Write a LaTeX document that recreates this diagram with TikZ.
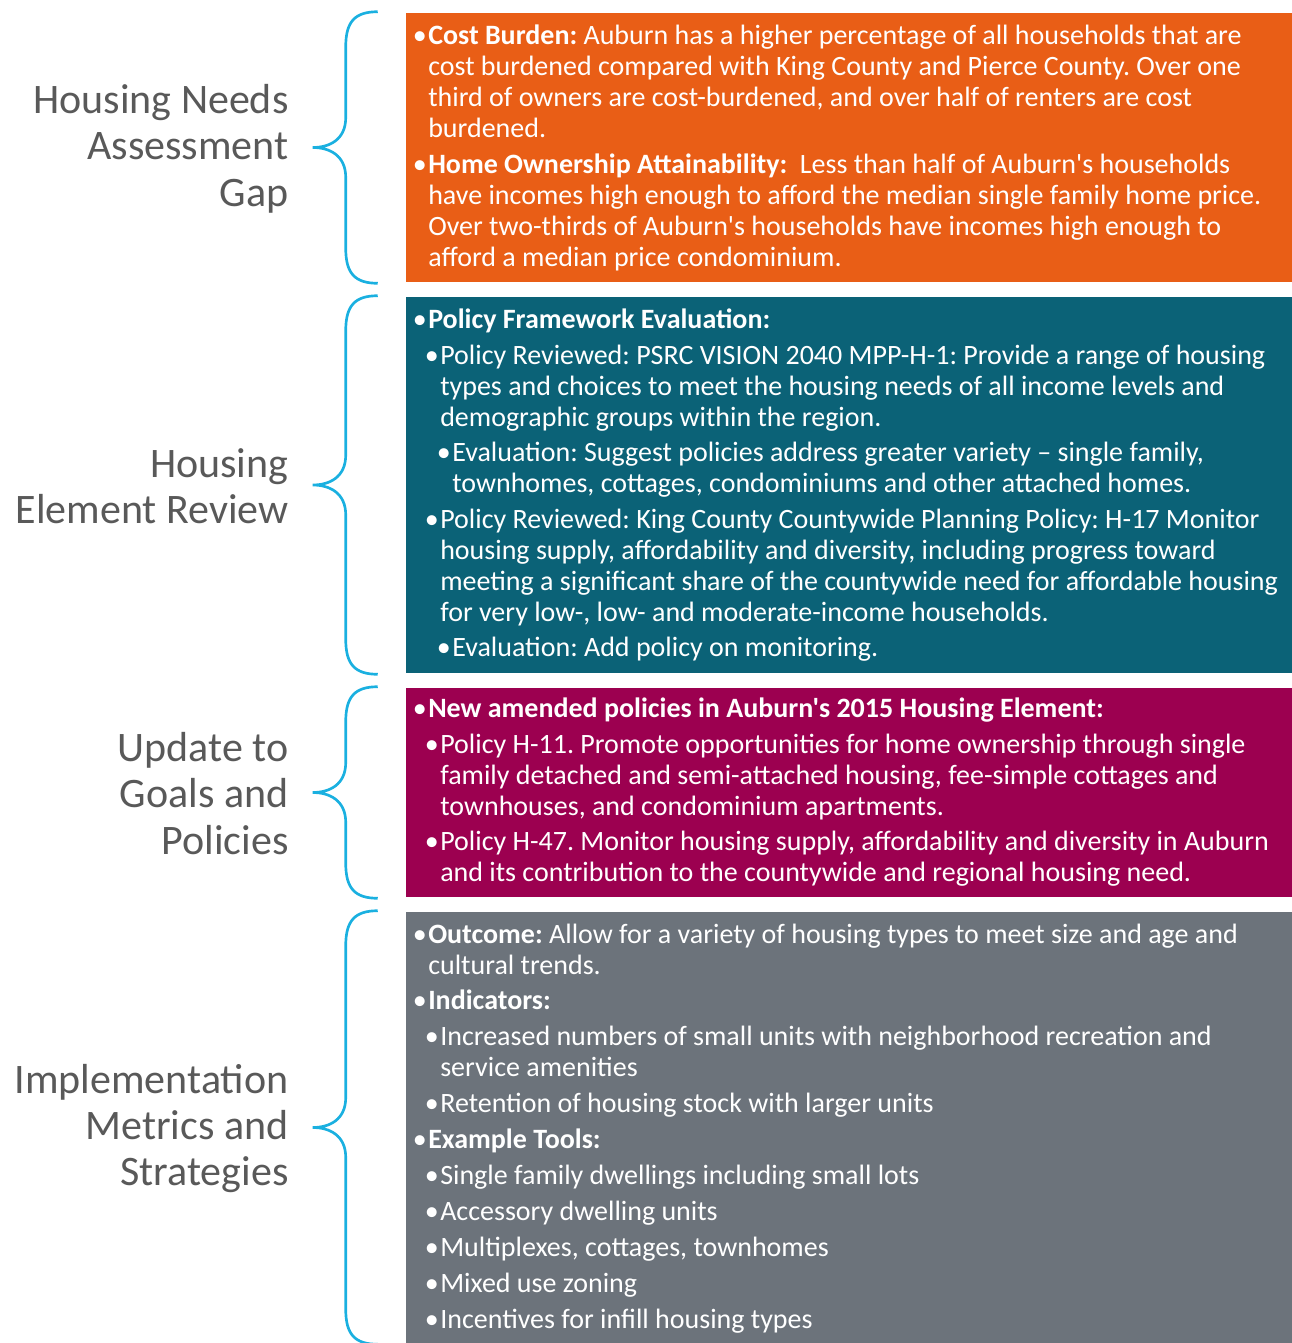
\documentclass[tikz,border=0pt]{standalone}
\usepackage{fontspec}
\setmainfont{Carlito}[Ligatures=TeXOff]
\usetikzlibrary{fit}
\definecolor{orangeC}{HTML}{E95E16}
\definecolor{tealC}{HTML}{0B6277}
\definecolor{magentaC}{HTML}{9C0050}
\definecolor{grayC}{HTML}{6C737B}
\definecolor{braceC}{HTML}{1AB0E0}
\definecolor{labelC}{HTML}{595959}
\tikzset{
  box/.style={inner sep=0pt, draw=none},
  item/.style={anchor=north west, inner sep=0pt, align=left, text=white,
    font=\fontsize{21}{23.25}\selectfont\frenchspacing},
  lbl/.style={anchor=east, inner sep=0pt, align=right, text=labelC,
    font=\fontsize{31.5}{34.8}\selectfont},
  brc/.style={draw=braceC, line width=2pt}
}
\newcommand{\bul}{\strut\llap{•\hspace{1pt}}}
\begin{document}
\begin{tikzpicture}[x=0.75pt,y=-0.75pt]
\useasboundingbox (0,0) rectangle (1292,1343);
% coloured panels
\node[box,fill=orangeC,fit={(406,13) (1292,282)}] (needs) {};
\node[box,fill=tealC,fit={(406,297) (1292,673)}] (review) {};
\node[box,fill=magentaC,fit={(406,688) (1292,897)}] (update) {};
\node[box,fill=grayC,fit={(406,912) (1292,1343)}] (metrics) {};
% braces
\foreach \b in {needs,review,update,metrics}
  \draw[brc] ([shift={(-28,-1)}]\b.north west) .. controls +(-23,0) and +(0,-25) .. ([shift={(-60,34)}]\b.north west)
    -- ([shift={(-60,-30)}]\b.west) .. controls +(0,22) and +(17,0) .. ([shift={(-93,0)}]\b.west)
    .. controls +(17,0) and +(0,-22) .. ([shift={(-60,30)}]\b.west)
    -- ([shift={(-60,-34)}]\b.south west) .. controls +(0,25) and +(-23,0) .. ([shift={(-28,1)}]\b.south west);
% labels
\node[lbl] (needslbl) at ([shift={(-117,1)}]needs.west) {Housing Needs\\Assessment\\Gap};
\node[lbl] (reviewlbl) at ([shift={(-117,1)}]review.west) {Housing\\Element Review};
\node[lbl] (updatelbl) at ([shift={(-117,1)}]update.west) {Update to\\Goals and\\Policies};
\node[lbl] (metricslbl) at ([shift={(-117,1)}]metrics.west) {Implementation\\Metrics and\\Strategies};
% needs
\node[item] (cost) at (428,23) {\bul\textbf{Cost Burden:} Auburn has a higher percentage of all households that are\\cost burdened compared with King County and Pierce County. Over one\\third of owners are cost-burdened, and over half of renters are cost\\burdened.};
\node[item] (own) at (428,152) {\bul\textbf{Home Ownership Attainability:}\ \ Less than half of Auburn's households\\have incomes high enough to afford the median single family home price.\\Over two-thirds of Auburn's households have incomes high enough to\\afford a median price condominium.};
% review
\node[item] (frame) at (428,307) {\bul\textbf{Policy Framework Evaluation:}};
\node[item] (psrc) at (440,343) {\bul Policy Reviewed: PSRC VISION 2040 MPP-H-1: Provide a range of housing\\types and choices to meet the housing needs of all income levels and\\demographic groups within the region.};
\node[item] (evalA) at (452,440) {\bul Evaluation: Suggest policies address greater variety – single family,\\townhomes, cottages, condominiums and other attached homes.};
\node[item] (king) at (440,507) {\bul Policy Reviewed: King County Countywide Planning Policy: H-17 Monitor\\housing supply, affordability and diversity, including progress toward\\meeting a significant share of the countywide need for affordable housing\\for very low-, low- and moderate-income households.};
\node[item] (evalB) at (452,635) {\bul Evaluation: Add policy on monitoring.};
% update
\node[item] (amend) at (428,696) {\bul\textbf{New amended policies in Auburn's 2015 Housing Element:}};
\node[item] (hA) at (440,732) {\bul Policy H-11. Promote opportunities for home ownership through single\\family detached and semi-attached housing, fee-simple cottages and\\townhouses, and condominium apartments.};
\node[item] (hB) at (440,829) {\bul Policy H-47. Monitor housing supply, affordability and diversity in Auburn\\and its contribution to the countywide and regional housing need.};
% metrics
\node[item] (outcome) at (428,922) {\bul\textbf{Outcome:} Allow for a variety of housing types to meet size and age and\\cultural trends.};
\node[item] (ind) at (428,988) {\bul\textbf{Indicators:}};
\node[item] (indA) at (440,1024) {\bul Increased numbers of small units with neighborhood recreation and\\service amenities};
\node[item] (indB) at (440,1091) {\bul Retention of housing stock with larger units};
\node[item] (tools) at (428,1127) {\bul\textbf{Example Tools:}};
\node[item] (toolA) at (440,1163) {\bul Single family dwellings including small lots};
\node[item] (toolB) at (440,1199) {\bul Accessory dwelling units};
\node[item] (toolC) at (440,1235) {\bul Multiplexes, cottages, townhomes};
\node[item] (toolD) at (440,1271) {\bul Mixed use zoning};
\node[item] (toolE) at (440,1307) {\bul Incentives for infill housing types};
\end{tikzpicture}
\end{document}
